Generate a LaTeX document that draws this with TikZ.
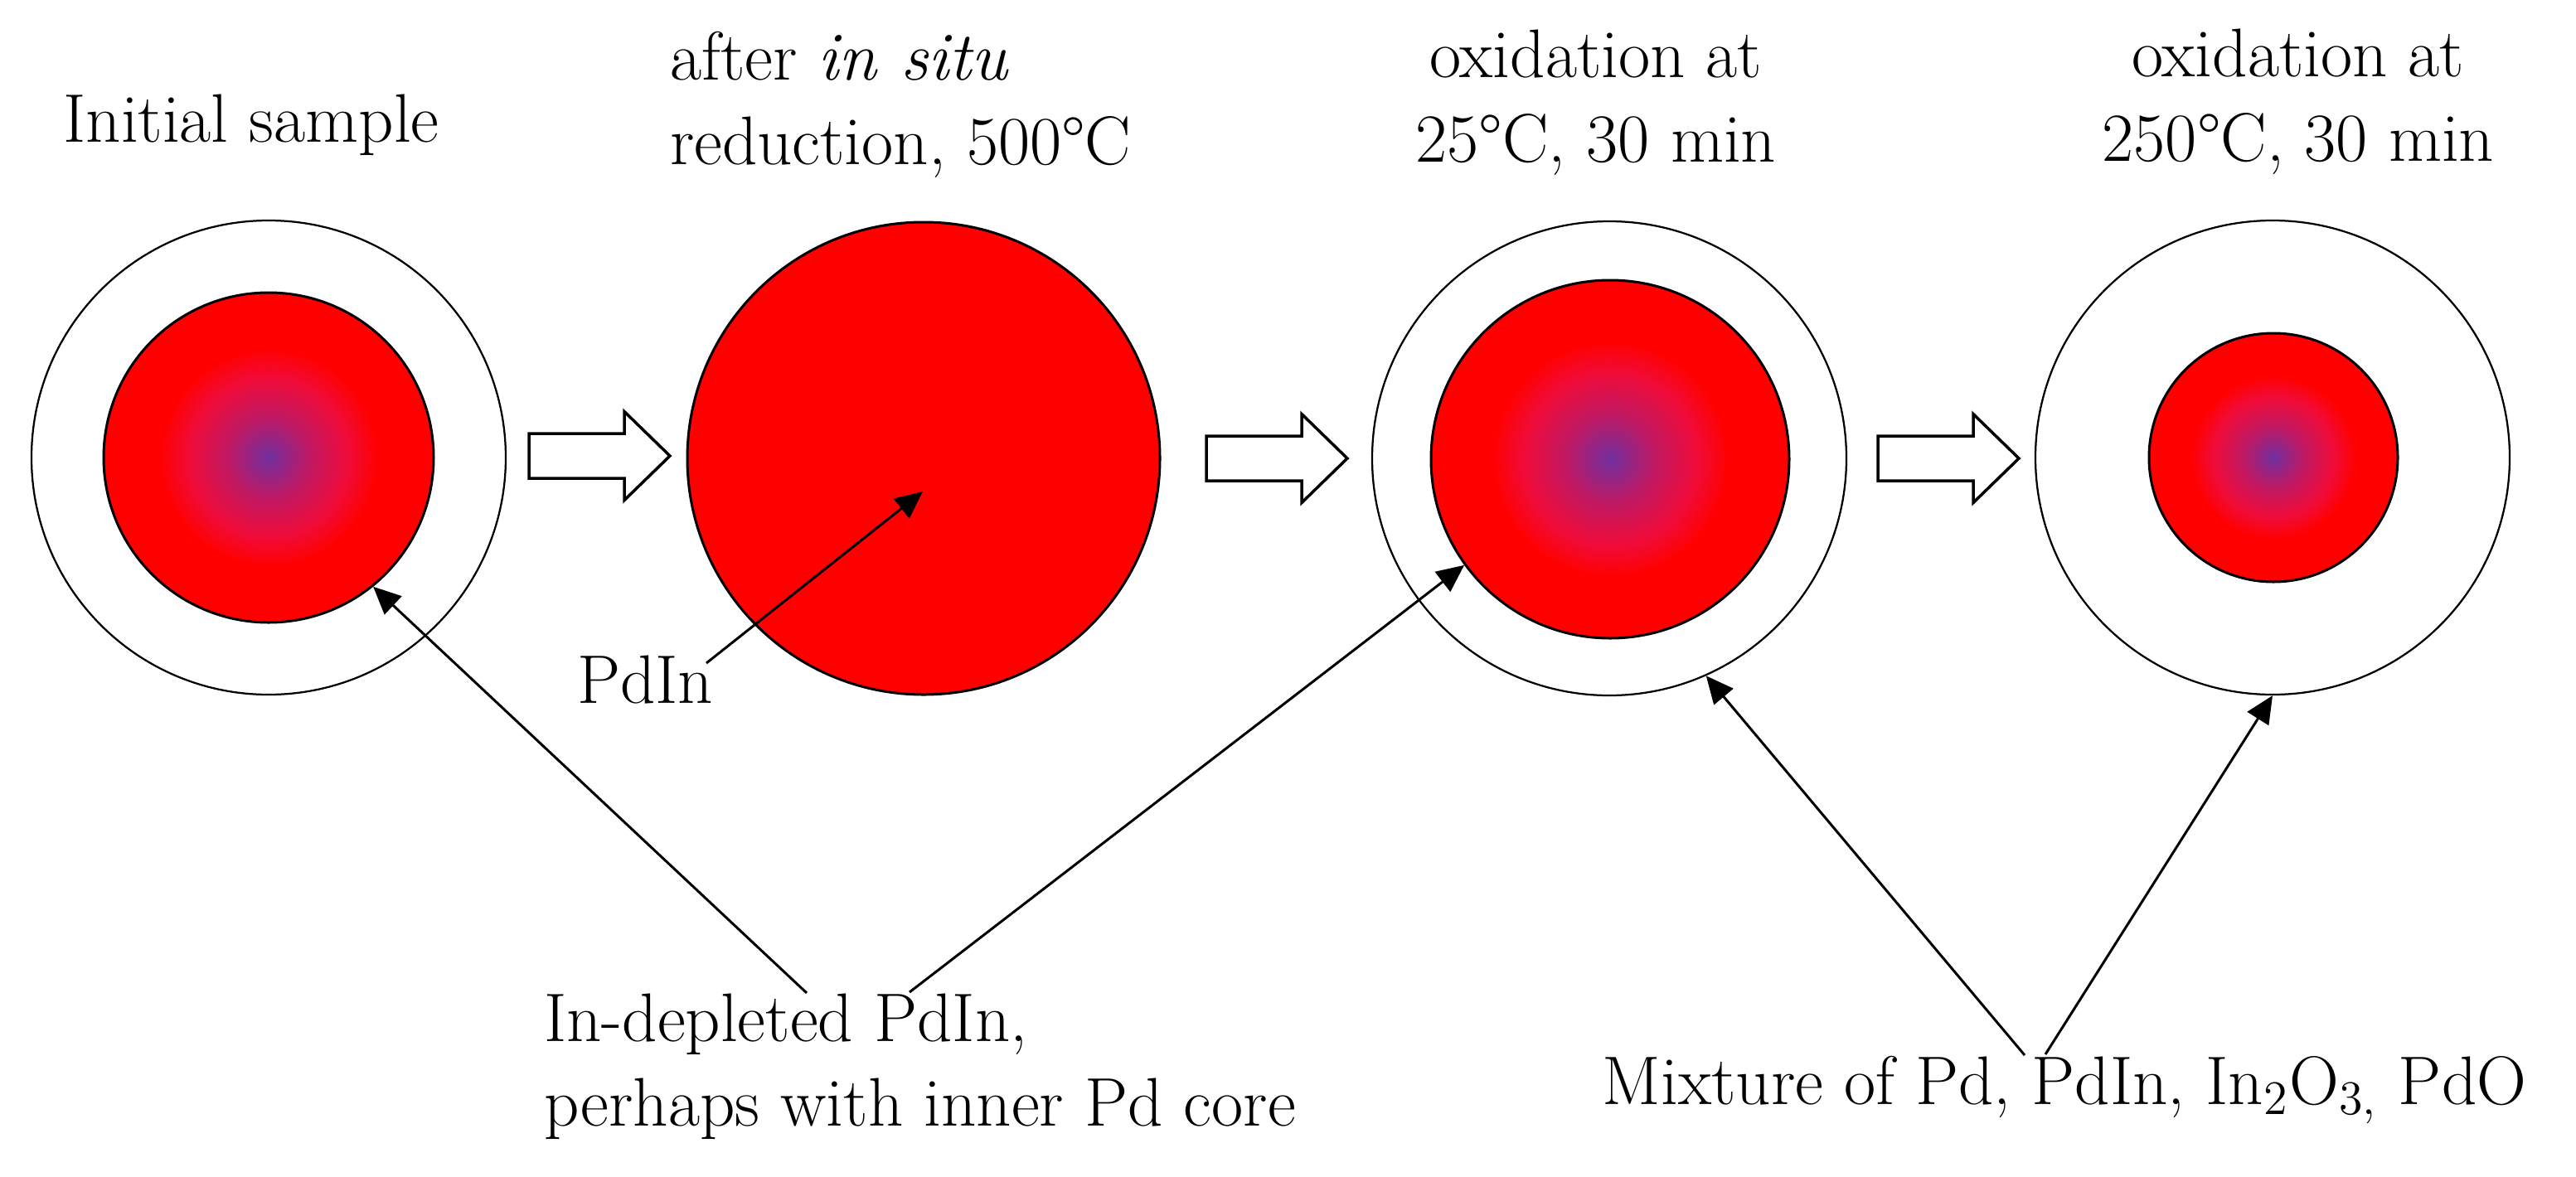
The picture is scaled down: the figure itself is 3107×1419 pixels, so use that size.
\documentclass[tikz,border=0pt]{standalone}
\usetikzlibrary{arrows.meta}
\definecolor{pdpurple}{RGB}{112,48,160}
\definecolor{pdmag}{RGB}{190,25,100}
\definecolor{pdcrim}{RGB}{240,12,58}
\definecolor{pdred}{RGB}{255,0,0}
\pgfdeclareradialshading{pdcore}{\pgfpoint{0bp}{0bp}}{color(0bp)=(pdpurple); color(6bp)=(pdmag); color(12bp)=(pdcrim); color(16.5bp)=(pdred); color(50bp)=(pdred)}
\begin{document}
\begin{tikzpicture}[x=0.2pt,y=0.2pt,
  lbl/.style={inner sep=0pt, font=\fontsize{16.6pt}{20.4pt}\selectfont},
  shell/.style={circle, draw=black, line width=0.45pt, inner sep=0pt, minimum size=114.4pt},
  core/.style={circle, draw=black, line width=0.6pt, inner sep=0pt, shade, shading=pdcore},
  blockarrow/.style={draw=black, line width=0.7pt, fill=white, line join=miter},
  pointer/.style={draw=black, line width=0.6pt, -{Triangle[length=6.6pt,width=6pt]}},
  blockarr/.pic={\draw[blockarrow] (0,27) -- (115,27) -- (115,53.5) -- (170,0) -- (115,-53.5) -- (115,-27) -- (0,-27) -- cycle;}]
\useasboundingbox (0,0) rectangle (3107,1419);
% particles
\node[shell] (s1) at (324,867) {};
\node[core, minimum size=79.6pt] (k1) at (324,867) {};
\node[circle, draw=black, line width=0.6pt, fill=pdred, inner sep=0pt, minimum size=114pt] (k2) at (1114,866) {};
\node[shell] (s3) at (1941,866) {};
\node[core, minimum size=86.4pt] (k3) at (1942,865) {};
\node[shell] (s4) at (2741,867) {};
\node[core, minimum size=60pt] (k4) at (2742,867) {};
% process arrows
\pic at (638,869) {blockarr};
\pic at (1455,866) {blockarr};
\pic at (2265,866) {blockarr};
% labels (multi-line nodes: base = baseline of last line)
\node[lbl, anchor=base] (t1) at (303,1248) {Initial sample};
\node[lbl, anchor=base west, align=left] (t2) at (807,1221) {after \textit{in situ}\\reduction, 500\textdegree C};
\node[lbl, anchor=base, align=center] (t3) at (1925,1224) {oxidation at\\25\textdegree C, 30 min};
\node[lbl, anchor=base, align=center] (t4) at (2772,1225) {oxidation at\\250\textdegree C, 30 min};
\node[lbl, anchor=base west] (pdin) at (695,571) {PdIn};
\node[lbl, anchor=base west, align=left] (dep) at (655,61) {In-depleted PdIn,\\perhaps with inner Pd core};
\node[lbl, anchor=base] (mix) at (2490,87) {Mixture of Pd, PdIn, In\textsubscript{2}O\textsubscript{3,} PdO};
% pointers
\coordinate (pdinend) at (852,619);
\coordinate (pdintip) at (1113,826);
\draw[pointer] (pdinend) -- (pdintip);
\coordinate (depL) at (973,221);
\coordinate (depR) at (1097,222);
\draw[pointer] (depL) -- (k1.-51.6);
\draw[pointer] (depR) -- (k3.216.8);
\coordinate (mixL) at (2442,146);
\coordinate (mixR) at (2467,147);
\draw[pointer] (mixL) -- (s3.-66.7);
\draw[pointer] (mixR) -- (s4.-90.5);
\end{tikzpicture}
\end{document}
